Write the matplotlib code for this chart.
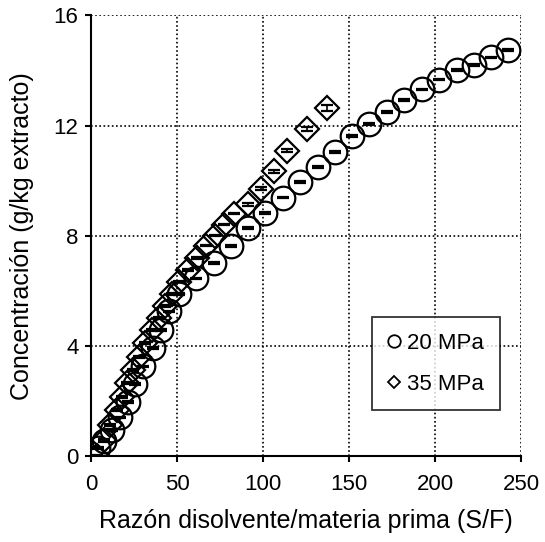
import matplotlib
matplotlib.use("Agg")
import matplotlib.pyplot as plt
from matplotlib.lines import Line2D

plt.rcParams['font.family'] = ['Liberation Sans', 'DejaVu Sans']

# 20 MPa series
x20 = [4.2, 7.5, 12.0, 16.9, 21.5, 25.5, 30.5, 35.8, 40.5, 45.5, 51.0, 61.0, 71.3,
       81.5, 91.3, 101.2, 111.8, 121.7, 131.8, 141.9, 151.9, 161.8, 172.1, 182.2,
       192.4, 202.5, 212.6, 222.7, 232.6, 242.6]
y20 = [0.28, 0.55, 0.95, 1.40, 1.97, 2.62, 3.25, 3.93, 4.58, 5.25, 5.88, 6.45, 7.00,
       7.63, 8.27, 8.83, 9.38, 9.95, 10.50, 11.04, 11.62, 12.06, 12.50, 12.93,
       13.31, 13.67, 14.02, 14.19, 14.47, 14.74]
e20 = [0.03] * len(x20)

# 35 MPa series
x35 = [3.5, 7.6, 11.0, 15.1, 18.0, 20.9, 24.4, 27.9, 31.4, 35.5, 39.5, 43.0, 47.1,
       51.2, 56.4, 61.6, 66.9, 72.1, 77.3, 83.1, 91.1, 98.8, 106.4, 114.0, 125.4, 137.0]
y35 = [0.00, 0.58, 1.13, 1.67, 2.15, 2.65, 3.13, 3.60, 4.11, 4.58, 5.02, 5.45, 5.89,
       6.33, 6.76, 7.20, 7.64, 8.00, 8.40, 8.80, 9.14, 9.70, 10.34, 11.09, 11.88, 12.64]
e35 = [0.03] * 20 + [0.05, 0.05, 0.06, 0.06, 0.08, 0.10]

xticks = [0, 50, 100, 150, 200, 250]
yticks = [0, 4, 8, 12, 16]

fig = plt.figure(figsize=(5.45, 5.42), dpi=100)
ax = fig.add_axes([0.167, 0.1587, 0.789, 0.813])

ax.errorbar(x20, y20, yerr=e20, fmt='o', ms=17, mfc='none', mec='black', mew=1.6,
            ecolor='black', elinewidth=1.2, capsize=4.5, capthick=2.2, zorder=3)
ax.errorbar(x35, y35, yerr=e35, fmt='D', ms=12, mfc='none', mec='black', mew=1.6,
            ecolor='black', elinewidth=1.2, capsize=4.5, capthick=2.2, zorder=3)

ax.set_xlim(0, 250)
ax.set_ylim(0, 16)
ax.set_xticks(xticks)
ax.set_yticks(yticks)
ax.grid(True, color='black', linestyle=(0, (1, 1.5)), linewidth=1.2)
ax.set_axisbelow(True)
for s in ['top', 'right']:
    ax.spines[s].set_visible(False)
for s in ['left', 'bottom']:
    ax.spines[s].set_linewidth(1.5)
ax.tick_params(direction='out', length=4, width=1.5, labelsize=16, pad=5)
ax.tick_params(axis='x', pad=9)

ax.set_xlabel('Razón disolvente/materia prima (S/F)', fontsize=18, labelpad=10)
ax.set_ylabel('Concentración (g/kg extracto)', fontsize=18, labelpad=14)

handles = [Line2D([], [], marker='o', ls='none', ms=9, mfc='white', mec='black', mew=1.3),
           Line2D([], [], marker='D', ls='none', ms=6.5, mfc='white', mec='black', mew=1.3)]
leg = ax.legend(handles, ['20 MPa', '35 MPa'], loc='upper left',
                bbox_to_anchor=(0.653, 0.315), frameon=True, fancybox=False,
                edgecolor='black', fontsize=16, handlelength=0.6, handletextpad=0.3,
                labelspacing=0.9, borderpad=0.7, borderaxespad=0)
leg.get_frame().set_linewidth(1.3)

fig.savefig('out.png', dpi=100)
